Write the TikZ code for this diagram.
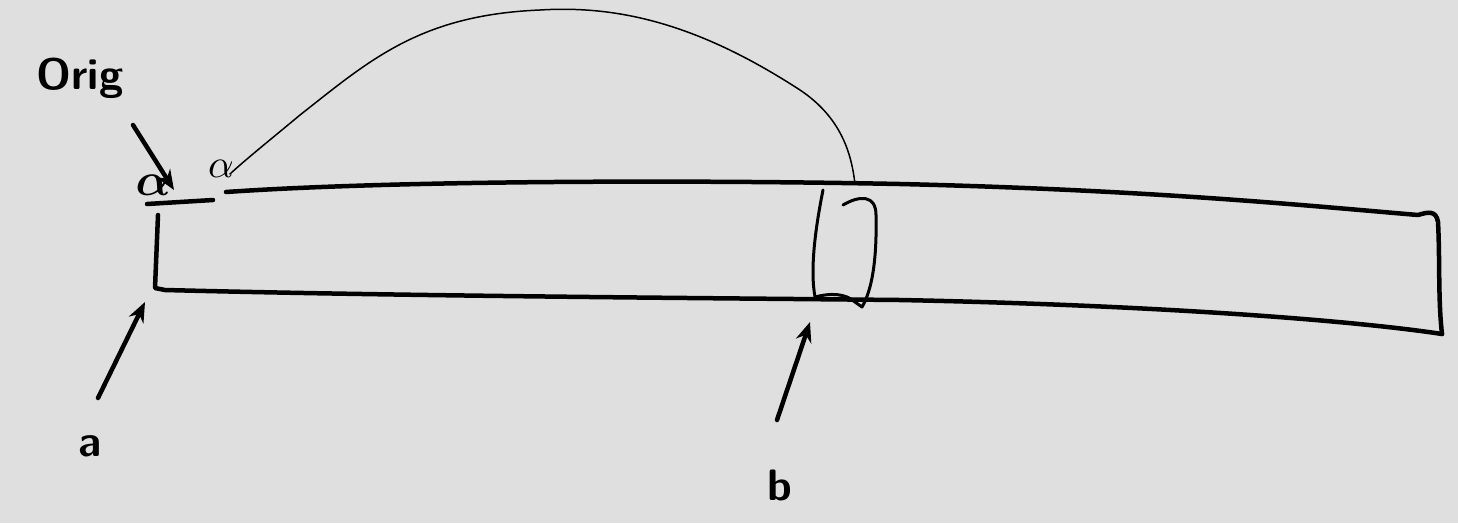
\documentclass[tikz,border=0pt]{standalone}
\usepackage{amsmath,bm}
\usetikzlibrary{arrows.meta}
\definecolor{bg}{RGB}{223,223,223}
\tikzset{
  thickink/.style={line width=4.5pt, line cap=round, line join=round},
  thinink/.style={line width=1.5pt, line cap=round},
  pointer/.style={line width=4.5pt, line cap=round, -{Stealth[length=20pt,width=16pt]}},
  lbl/.style={font=\sffamily\bfseries\fontsize{44}{46}\selectfont, inner sep=0pt}
}
\begin{document}
\begin{tikzpicture}[x=1pt,y=-1pt]
\fill[bg] (0,0) rectangle (1458,523);
\useasboundingbox (0,0) rectangle (1458,523);
% labels
\node[lbl] (orig) at (80,78) {Orig};
\node[scale=4.6, inner sep=0pt] (alphaA) at (153,185) {$\bm{\alpha}$};
\node[scale=4, inner sep=0pt] (alphaB) at (221,169) {$\alpha$};
\node[lbl] (la) at (90,446) {a};
\node[lbl] (lb) at (780,485) {b};
% coordinates
\coordinate (aTip) at (145,302);
\coordinate (bTip) at (810,322);
\coordinate (oTip) at (174,190);
\coordinate (boxTop) at (855,184);
% bar
\draw[thickink] (147,204) -- (213,200);
\draw[thickink] (226,192) .. controls (400,180) and (700,180) .. (900,184)
  .. controls (1150,190) and (1300,205) .. (1418,215)
  .. controls (1428,212) and (1436,210) .. (1438,222)
  .. controls (1440,260) and (1438,300) .. (1442,334);
\draw[thickink] (158,215) -- (155,288) -- (165,290)
  .. controls (400,296) and (700,298) .. (900,300)
  .. controls (1150,305) and (1350,320) .. (1442,334);
% inner box
\draw[line width=3pt, line cap=round, line join=round] (823,190) .. controls (815,230) and (810,270) .. (815,297)
  .. controls (830,293) and (845,293) .. (855,302) -- (862,307)
  .. controls (872,290) and (877,260) .. (876,215)
  .. controls (876,195) and (860,195) .. (843,205);
% curve
\draw[thinink] (boxTop) .. controls (852,160) and (845,120) .. (800,90)
  .. controls (700,25) and (620,5) .. (540,10)
  .. controls (420,15) and (370,60) .. (300,115)
  .. controls (270,140) and (245,160) .. (230,174);
% pointers
\draw[pointer] (133,125) -- (oTip);
\draw[pointer] (98,398) -- (aTip);
\draw[pointer] (777,420) -- (bTip);
\end{tikzpicture}
\end{document}
